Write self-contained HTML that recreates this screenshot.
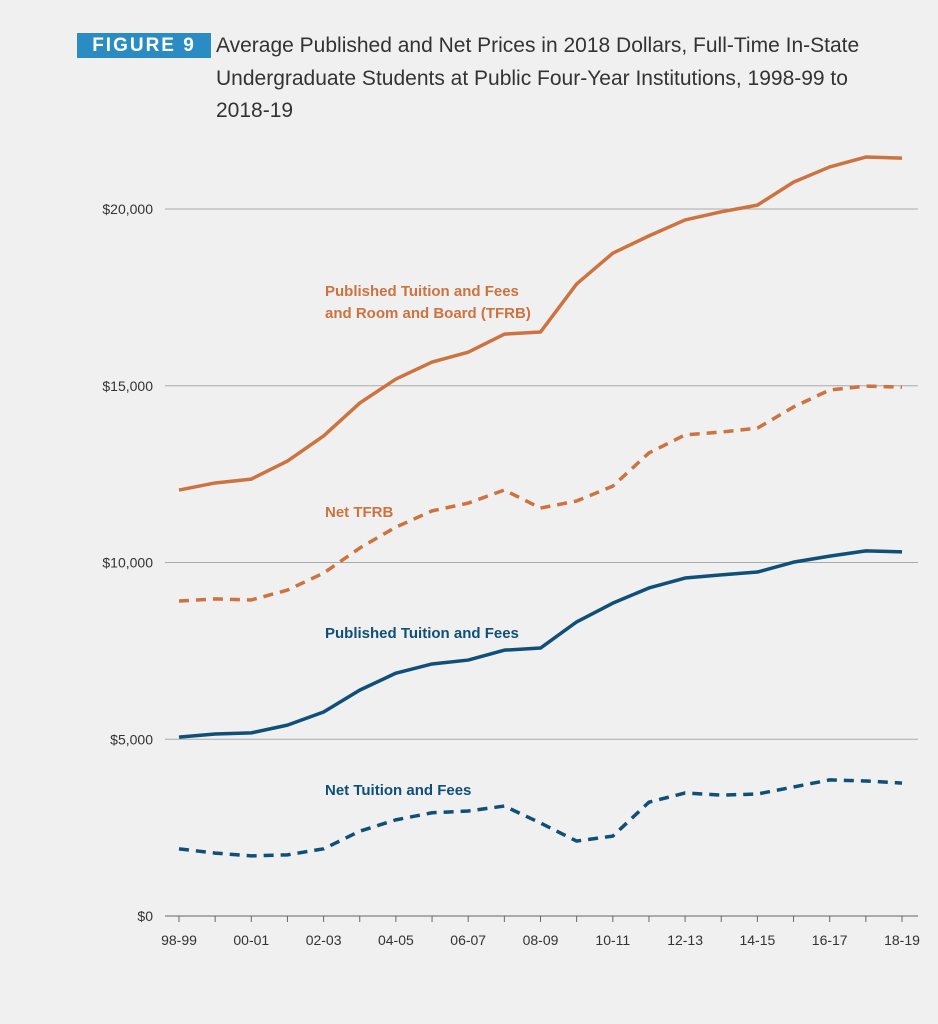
<!DOCTYPE html>
<html><head><meta charset="utf-8"><style>
body{margin:0;background:#f0f0f0;font-family:"Liberation Sans",sans-serif;}
#wrap{position:relative;width:938px;height:1024px;background:#f0f0f0;overflow:hidden}
.badge{position:absolute;left:77px;top:33px;width:134px;height:25px;background:#2b8cc4;color:#fff;font-weight:bold;font-size:19px;letter-spacing:2px;line-height:25px;text-align:center}
.title{position:absolute;left:216px;top:30px;width:675px;font-size:21px;line-height:32.5px;color:#333}
</style></head><body>
<div id="wrap">
<div class="badge">FIGURE 9</div>
<div class="title">Average Published and Net Prices in 2018 Dollars, Full-Time In-State Undergraduate Students at Public Four-Year Institutions, 1998-99 to 2018-19</div>
<svg id="chart" width="938" height="1024" style="position:absolute;left:0;top:0"></svg>
</div>
<script>
const categories=["98-99","99-00","00-01","01-02","02-03","03-04","04-05","05-06","06-07","07-08","08-09","09-10","10-11","11-12","12-13","13-14","14-15","15-16","16-17","17-18","18-19"];
const tfrb=[12050,12250,12360,12870,13580,14510,15190,15670,15950,16460,16520,17880,18750,19240,19690,19920,20110,20760,21190,21470,21440];
const netTfrb=[8910,8970,8940,9220,9700,10410,11000,11460,11680,12050,11540,11740,12160,13100,13610,13690,13800,14400,14880,14990,14960];
const ptf=[5060,5150,5180,5400,5770,6390,6870,7130,7240,7520,7580,8320,8850,9280,9560,9650,9730,10010,10180,10330,10300];
const ntf=[1900,1780,1700,1730,1900,2400,2720,2920,2970,3110,2630,2120,2260,3220,3480,3420,3450,3650,3850,3820,3760];
const yTicks=[0,5000,10000,15000,20000];
const yTickLabels=["$0","$5,000","$10,000","$15,000","$20,000"];
const svg=document.getElementById('chart');const NS='http://www.w3.org/2000/svg';
const x=i=>179+i*(902-179)/20;
const y=v=>916-v*(916-209)/20000;
function mk(t,a){const e=document.createElementNS(NS,t);for(const k in a)e.setAttribute(k,a[k]);svg.appendChild(e);return e;}
yTicks.forEach((v,i)=>{
 const g=mk('line',{x1:165,x2:918,y1:y(v),y2:y(v),stroke:v===0?'#666':'#aaa','stroke-width':1});
 
 
 const t=mk('text',{x:153,y:y(v)+5,'text-anchor':'end','font-size':14,fill:'#333'});t.textContent=yTickLabels[i];
 
 
});
categories.forEach((c,i)=>{
 const tk=mk('line',{x1:x(i),x2:x(i),y1:916,y2:922,stroke:'#666'});
 
 
 if(i%2===0){const t=mk('text',{x:x(i),y:945,'text-anchor':'middle','font-size':14,fill:'#333'});t.textContent=c;
 
 }
});
function series(d,col,dash,name){
 const p=mk('polyline',{points:d.map((v,i)=>x(i)+','+y(v)).join(' '),fill:'none',stroke:col,'stroke-width':3.5,'stroke-dasharray':dash||'none','stroke-linejoin':'round'});
 
 
}
const OR='#cc7340',BL='#0f4f78';
series(tfrb,OR,null,'line-published-tfrb');
series(netTfrb,OR,'10 7','line-net-tfrb');
series(ptf,BL,null,'line-published-tuition');
series(ntf,BL,'10 7','line-net-tuition');
function lab(txt,lx,ly,col,name){const t=mk('text',{x:lx,y:ly,'font-size':15,'font-weight':'bold',fill:col});t.textContent=txt;
 
 }
lab('Published Tuition and Fees',325,296,OR,'label-published-tfrb');
lab('and Room and Board (TFRB)',325,318,OR,'label-published-tfrb-2');
lab('Net TFRB',325,517,OR,'label-net-tfrb');
lab('Published Tuition and Fees',325,638,BL,'label-published-tuition');
lab('Net Tuition and Fees',325,795,BL,'label-net-tuition');
</script>
</body></html>
